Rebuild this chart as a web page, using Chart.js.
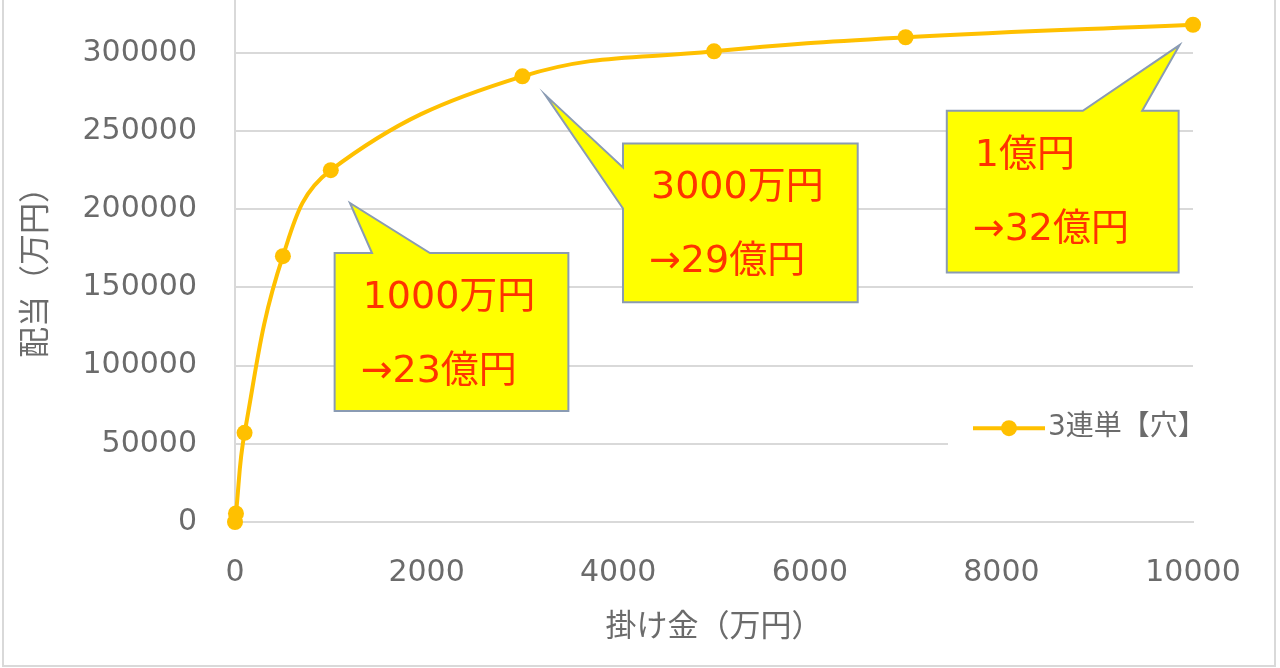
<!DOCTYPE html>
<html>
<head>
<meta charset="utf-8">
<script src="https://cdn.jsdelivr.net/npm/chart.js@4"></script>
<style>
  html, body { margin: 0; padding: 0; background: #fff; }
  #wrap { width: 1280px; height: 668px; position: relative; }
</style>
</head>
<body>
<div id="wrap"><canvas id="chart"></canvas></div>
<script>
// 掛け金（万円）と配当（万円）
let kakekin = [0, 10, 100, 500, 1000, 3000, 5000, 7000, 10000];
let haitou = [0, 5500, 57000, 170000, 225000, 285000, 301000, 310000, 318000];
let xTicks = [0, 2000, 4000, 6000, 8000, 10000];
let yTicks = [0, 50000, 100000, 150000, 200000, 250000, 300000];
let seriesName = "3連単【穴】";

// 吹き出し（データ座標で指定）
let callouts = [
    { lines: ["1000万円", "→23億円"], box: [1040, 3480, 172000, 71000], tip: [1200, 204000], side: "top", base: [1430, 2035] },
    { lines: ["3000万円", "→29億円"], box: [4050, 6500, 242000, 140500], tip: [3240, 273000], side: "left", base: [226700, 200500] },
    { lines: ["1億円", "→32億円"], box: [7430, 9850, 263000, 159500], tip: [9860, 305000], side: "top", base: [8850, 9470] }
];

const FONT = "'DejaVu Sans', 'Noto Sans CJK JP', sans-serif";
const GRAY = "#6b6b6b";
const GRID = "#d9d9d9";
const GOLD = "#FFC000";

const calloutPlugin = {
    id: "callouts",
    afterDatasetsDraw(chart) {
        const ctx = chart.ctx;
        const sx = chart.scales.x, sy = chart.scales.y;
        callouts.forEach(c => {
            let l = sx.getPixelForValue(c.box[0]);
            let r = sx.getPixelForValue(c.box[1]);
            let t = sy.getPixelForValue(c.box[2]);
            let b = sy.getPixelForValue(c.box[3]);
            let tx = sx.getPixelForValue(c.tip[0]);
            let ty = sy.getPixelForValue(c.tip[1]);
            ctx.save();
            ctx.beginPath();
            if (c.side === "top") {
                let b1 = sx.getPixelForValue(c.base[0]);
                let b2 = sx.getPixelForValue(c.base[1]);
                ctx.moveTo(l, t);
                ctx.lineTo(b1, t);
                ctx.lineTo(tx, ty);
                ctx.lineTo(b2, t);
                ctx.lineTo(r, t);
                ctx.lineTo(r, b);
                ctx.lineTo(l, b);
            } else {
                let b1 = sy.getPixelForValue(c.base[0]);
                let b2 = sy.getPixelForValue(c.base[1]);
                ctx.moveTo(l, t);
                ctx.lineTo(r, t);
                ctx.lineTo(r, b);
                ctx.lineTo(l, b);
                ctx.lineTo(l, b2);
                ctx.lineTo(tx, ty);
                ctx.lineTo(l, b1);
            }
            ctx.closePath();
            ctx.fillStyle = "#FFFF00";
            ctx.fill();
            ctx.lineWidth = 2;
            ctx.strokeStyle = "#8a9bb3";
            ctx.stroke();

            ctx.fillStyle = "#FF3300";
            ctx.font = "38px " + FONT;
            ctx.textBaseline = "middle";
            ctx.textAlign = "left";
            ctx.fillText(c.lines[0], l + 28, t + 45);
            ctx.fillText(c.lines[1], l + 26, t + 119);
            ctx.restore();
        });

        // 凡例
        const ds = chart.data.datasets[0];
        let lx = chart.chartArea.right - 220;
        let ly = sy.getPixelForValue(60000);
        ctx.save();
        ctx.fillStyle = "#fff";
        ctx.fillRect(lx - 25, ly - 24, 270, 48);
        ctx.strokeStyle = ds.borderColor;
        ctx.lineWidth = 4;
        ctx.beginPath();
        ctx.moveTo(lx, ly);
        ctx.lineTo(lx + 72, ly);
        ctx.stroke();
        ctx.fillStyle = ds.borderColor;
        ctx.beginPath();
        ctx.arc(lx + 36, ly, 8, 0, Math.PI * 2);
        ctx.fill();
        ctx.fillStyle = GRAY;
        ctx.font = "28px " + FONT;
        ctx.textBaseline = "middle";
        ctx.fillText(ds.label, lx + 75, ly);
        ctx.restore();
    },
    afterDraw(chart) {
        const ctx = chart.ctx;
        ctx.save();
        ctx.strokeStyle = GRID;
        ctx.lineWidth = 2;
        ctx.strokeRect(3, -10, 1272, 676);
        // 縦軸線を上端まで
        let ax = chart.chartArea.left;
        ctx.beginPath();
        ctx.moveTo(ax, 0);
        ctx.lineTo(ax, chart.chartArea.top);
        ctx.stroke();
        ctx.restore();
    }
};

const ctx = document.getElementById("chart");

new Chart(ctx, {
    type: "line",
    data: {
        datasets: [{
            label: seriesName,
            data: kakekin.map((x, i) => ({ x: x, y: haitou[i] })),
            borderColor: GOLD,
            backgroundColor: GOLD,
            borderWidth: 4,
            pointRadius: 8,
            pointBorderWidth: 0,
            pointBackgroundColor: GOLD,
            tension: 0.4,
            clip: false
        }]
    },
    options: {
        responsive: true,
        maintainAspectRatio: false,
        animation: false,
        layout: { padding: { left: 0, right: 87, top: 0, bottom: 0 } },
        plugins: {
            legend: { display: false },
            tooltip: { enabled: false }
        },
        scales: {
            x: {
                type: "linear",
                min: 0,
                max: 10000,
                afterBuildTicks: s => { s.ticks = xTicks.map(v => ({ value: v })); },
                ticks: { color: GRAY, padding: 33, font: { family: FONT, size: 30 }, maxRotation: 0, callback: v => String(v) },
                grid: { display: false, drawTicks: false },
                border: { color: GRID, width: 2 },
                title: {
                    display: true,
                    text: "掛け金（万円）",
                    color: GRAY,
                    font: { family: FONT, size: 31 },
                    padding: { top: 0, bottom: 21 }
                },
                afterFit: s => { s.height = 146; s.paddingLeft = 0; s.paddingRight = 0; }
            },
            y: {
                min: 0,
                max: 328700,
                afterBuildTicks: s => { s.ticks = yTicks.map(v => ({ value: v })); },
                ticks: { color: GRAY, padding: 38, font: { family: FONT, size: 30 }, callback: v => String(v) },
                grid: { color: GRID, lineWidth: 2, drawTicks: false },
                border: { color: GRID, width: 2 },
                title: {
                    display: true,
                    text: "配当（万円）",
                    color: GRAY,
                    font: { family: FONT, size: 31 },
                    padding: { top: 18, bottom: 0 }
                },
                afterFit: s => { s.width = 235; s.paddingTop = 0; s.paddingBottom = 0; }
            }
        }
    },
    plugins: [calloutPlugin]
});
</script>
</body>
</html>
